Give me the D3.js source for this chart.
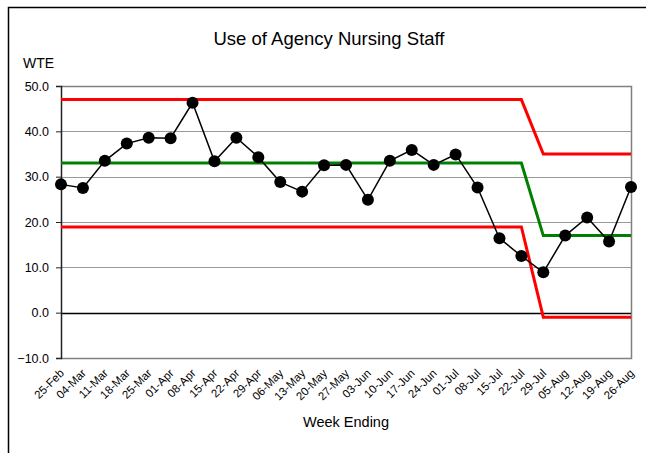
<!DOCTYPE html>
<html>
<head>
<meta charset="UTF-8">
<script src="https://d3js.org/d3.v7.min.js"></script>
<style>
  body { margin: 0; background: #fff; }
  svg text { font-family: "Liberation Sans", Arial, sans-serif; fill: #000; }
</style>
</head>
<body>
<svg id="chart" width="646" height="453"></svg>
<script>
const weeks = ['25-Feb','04-Mar','11-Mar','18-Mar','25-Mar','01-Apr','08-Apr','15-Apr','22-Apr','29-Apr',
  '06-May','13-May','20-May','27-May','03-Jun','10-Jun','17-Jun','24-Jun','01-Jul','08-Jul',
  '15-Jul','22-Jul','29-Jul','05-Aug','12-Aug','19-Aug','26-Aug'];
const wte = [28.3, 27.5, 33.5, 37.3, 38.6, 38.5, 46.3, 33.4, 38.6, 34.3,
  28.8, 26.7, 32.5, 32.6, 24.9, 33.5, 35.9, 32.6, 34.9, 27.6,
  16.4, 12.5, 8.9, 17.0, 21.0, 15.7, 27.7];
const upperLimit = [47, 47, 47, 47, 47, 47, 47, 47, 47, 47,
  47, 47, 47, 47, 47, 47, 47, 47, 47, 47,
  47, 47, 35, 35, 35, 35, 35];
const meanLine = [33, 33, 33, 33, 33, 33, 33, 33, 33, 33,
  33, 33, 33, 33, 33, 33, 33, 33, 33, 33,
  33, 33, 17, 17, 17, 17, 17];
const lowerLimit = [18.9, 18.9, 18.9, 18.9, 18.9, 18.9, 18.9, 18.9, 18.9, 18.9,
  18.9, 18.9, 18.9, 18.9, 18.9, 18.9, 18.9, 18.9, 18.9, 18.9,
  18.9, 18.9, -1, -1, -1, -1, -1];
const yTicks = [-10, 0, 10, 20, 30, 40, 50];

const svg = d3.select('#chart');
const plotLeft = 61, plotRight = 631, plotTop = 86, plotBottom = 358;

const x = d3.scalePoint().domain(weeks).range([plotLeft, plotRight]);
const y = d3.scaleLinear().domain([-10, 50]).range([plotBottom, plotTop]);

// outer frame
svg.append('path')
  .attr('d', `M8.5,453 V7.5 H646`)
  .attr('fill', 'none').attr('stroke', '#000').attr('stroke-width', 1.5);

// gridlines
svg.append('g').selectAll('line')
  .data(yTicks.filter(d => d > -10 && d < 50 && d !== 0))
  .join('line')
  .attr('x1', plotLeft).attr('x2', plotRight)
  .attr('y1', d => Math.round(y(d)) + 0.5).attr('y2', d => Math.round(y(d)) + 0.5)
  .attr('stroke', '#999').attr('stroke-width', 1);

// plot border (top, right, bottom)
svg.append('path')
  .attr('d', `M${plotLeft},${plotTop + 0.5} H${plotRight + 0.5} V${plotBottom + 0.5} H${plotLeft}`)
  .attr('fill', 'none').attr('stroke', '#808080').attr('stroke-width', 1.5);

// zero line
svg.append('line')
  .attr('x1', plotLeft).attr('x2', plotRight)
  .attr('y1', Math.round(y(0)) + 0.5).attr('y2', Math.round(y(0)) + 0.5)
  .attr('stroke', '#000').attr('stroke-width', 1.5);

// y axis
const yAxis = svg.append('g')
  .attr('transform', `translate(${plotLeft},0)`)
  .call(d3.axisLeft(y).tickValues(yTicks).tickSize(5).tickPadding(7).tickFormat(d3.format('.1f')));
yAxis.select('.domain').attr('stroke', '#222').attr('stroke-width', 1.5);
yAxis.selectAll('.tick line').attr('stroke', '#222');
yAxis.selectAll('text').style('font-size', '12.5px').attr('fill', '#000');

// x labels
svg.append('g').selectAll('text')
  .data(weeks)
  .join('text')
  .attr('transform', d => `translate(${x(d) + 1},${plotBottom + 13}) rotate(-45)`)
  .attr('text-anchor', 'end')
  .attr('dy', '0.35em')
  .style('font-size', '11.5px')
  .text(d => d);

// control lines
const line = d3.line().x((d, i) => x(weeks[i])).y(d => y(d));
[[upperLimit, '#ff0000'], [meanLine, '#008000'], [lowerLimit, '#ff0000']].forEach(([s, c]) => {
  svg.append('path').datum(s)
    .attr('d', line)
    .attr('fill', 'none').attr('stroke', c).attr('stroke-width', 3);
});

// data series
svg.append('path').datum(wte)
  .attr('d', line)
  .attr('fill', 'none').attr('stroke', '#000').attr('stroke-width', 1.5);
svg.append('g').selectAll('circle')
  .data(wte)
  .join('circle')
  .attr('cx', (d, i) => x(weeks[i]))
  .attr('cy', d => y(d))
  .attr('r', 6)
  .attr('fill', '#000');

// titles
svg.append('text')
  .attr('x', 329).attr('y', 45)
  .attr('text-anchor', 'middle')
  .style('font-size', '18.5px')
  .text('Use of Agency Nursing Staff');
svg.append('text')
  .attr('x', 23).attr('y', 68)
  .style('font-size', '14px')
  .text('WTE');
svg.append('text')
  .attr('x', 346).attr('y', 427)
  .attr('text-anchor', 'middle')
  .style('font-size', '14.5px')
  .text('Week Ending');
</script>
</body>
</html>
